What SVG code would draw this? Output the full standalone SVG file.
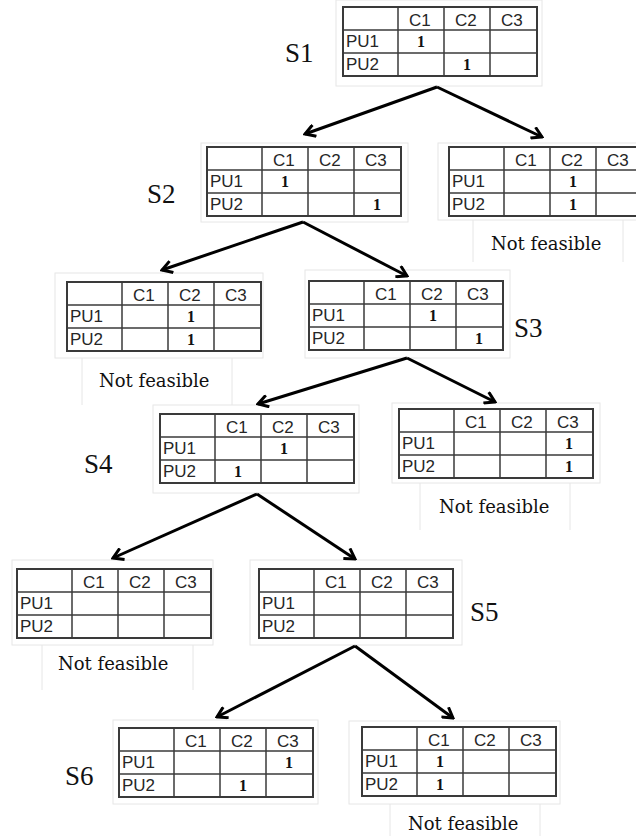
<svg xmlns="http://www.w3.org/2000/svg" xmlns:xlink="http://www.w3.org/1999/xlink" width="636" height="836" viewBox="0 0 636 836">
<style>
.fr{fill:none;stroke:#e6e6e6;stroke-width:1}
.tb{fill:#fff;stroke:#3a3a3a;stroke-width:2}
.ln{stroke:#3a3a3a;stroke-width:1.5}
.hd{font-family:"Liberation Sans",Arial,sans-serif;font-size:17px;fill:#262626}
.one{font-family:"Liberation Serif","Times New Roman",serif;font-size:16px;font-weight:bold;fill:#111;text-anchor:middle}
.lab{font-family:"Liberation Serif","Times New Roman",serif;font-size:27px;fill:#111}
.nf{font-family:"DejaVu Serif","Liberation Serif",serif;font-size:18px;fill:#111}
.ar{fill:none;stroke:#000;stroke-width:3;marker-end:url(#head)}
</style>
<defs>
<marker id="head" markerUnits="userSpaceOnUse" viewBox="0 0 14 14" refX="12" refY="7" markerWidth="14" markerHeight="14" orient="auto">
<path d="M2,1 L12,7 L2,13" fill="none" stroke="#000" stroke-width="3" stroke-linejoin="miter"/>
</marker>
<g id="grid">
<rect class="tb" x="0" y="0" width="194" height="69"/>
<line class="ln" x1="0" y1="23" x2="194" y2="23"/>
<line class="ln" x1="0" y1="46" x2="194" y2="46"/>
<line class="ln" x1="55" y1="0" x2="55" y2="69"/>
<line class="ln" x1="101" y1="0" x2="101" y2="69"/>
<line class="ln" x1="147" y1="0" x2="147" y2="69"/>
<text class="hd" x="66" y="19">C1</text>
<text class="hd" x="112" y="19">C2</text>
<text class="hd" x="158" y="19">C3</text>
<text class="hd" x="3" y="40">PU1</text>
<text class="hd" x="3" y="63">PU2</text>
</g>
</defs>
<rect width="636" height="836" fill="#fff"/>
<g id="frames">
<rect class="fr" x="336" y="0" width="206" height="86"/>
<rect class="fr" x="201" y="143" width="207" height="79"/>
<rect class="fr" x="438" y="143" width="210" height="77"/>
<path class="fr" d="M473,220 V262 M623,220 V262"/>
<rect class="fr" x="55" y="273" width="208" height="85"/>
<path class="fr" d="M82,358 V405 M232,358 V405"/>
<rect class="fr" x="305" y="270" width="205" height="88"/>
<rect class="fr" x="153" y="405" width="206" height="88"/>
<rect class="fr" x="392" y="403" width="208" height="80"/>
<path class="fr" d="M420,483 V530 M570,483 V530"/>
<rect class="fr" x="12" y="560" width="201" height="85"/>
<path class="fr" d="M42,645 V690 M193,645 V690"/>
<rect class="fr" x="250" y="560" width="212" height="85"/>
<rect class="fr" x="113" y="720" width="205" height="84"/>
<rect class="fr" x="349" y="721" width="211" height="83"/>
<path class="fr" d="M390,804 V836 M540,804 V836"/>
</g>
<g id="connectors">
<path class="ar" d="M437,87 L305,134"/>
<path class="ar" d="M437,87 L542,137"/>
<path class="ar" d="M303,222 L162,270"/>
<path class="ar" d="M303,222 L407,276"/>
<path class="ar" d="M407,358 L258,404"/>
<path class="ar" d="M407,358 L495,402"/>
<path class="ar" d="M257,494 L113,558"/>
<path class="ar" d="M257,494 L355,559"/>
<path class="ar" d="M355,646 L217,717"/>
<path class="ar" d="M355,646 L453,718"/>
</g>
<g id="S1">
<text class="lab" x="285" y="62">S1</text>
<use xlink:href="#grid" x="343" y="7"/>
<text class="one" x="421" y="47">1</text>
<text class="one" x="467" y="70">1</text>
</g>
<g id="S2">
<text class="lab" x="147" y="203">S2</text>
<use xlink:href="#grid" x="207" y="147"/>
<text class="one" x="285" y="187">1</text>
<text class="one" x="377" y="210">1</text>
</g>
<g id="N2">
<use xlink:href="#grid" x="449" y="147"/>
<text class="one" x="573" y="187">1</text>
<text class="one" x="573" y="210">1</text>
<text class="nf" x="491" y="250">Not feasible</text>
</g>
<g id="N3">
<use xlink:href="#grid" x="67" y="282"/>
<text class="one" x="191" y="322">1</text>
<text class="one" x="191" y="345">1</text>
<text class="nf" x="99" y="387">Not feasible</text>
</g>
<g id="S3">
<text class="lab" x="514" y="337">S3</text>
<use xlink:href="#grid" x="309" y="281"/>
<text class="one" x="433" y="321">1</text>
<text class="one" x="479" y="344">1</text>
</g>
<g id="S4">
<text class="lab" x="84" y="473">S4</text>
<use xlink:href="#grid" x="160" y="414"/>
<text class="one" x="284" y="454">1</text>
<text class="one" x="238" y="477">1</text>
</g>
<g id="N4">
<use xlink:href="#grid" x="399" y="409"/>
<text class="one" x="569" y="449">1</text>
<text class="one" x="569" y="472">1</text>
<text class="nf" x="439" y="513">Not feasible</text>
</g>
<g id="N5">
<use xlink:href="#grid" x="17" y="569"/>
<text class="nf" x="58" y="670">Not feasible</text>
</g>
<g id="S5">
<text class="lab" x="470" y="621">S5</text>
<use xlink:href="#grid" x="259" y="569"/>
</g>
<g id="S6">
<text class="lab" x="65" y="785">S6</text>
<use xlink:href="#grid" x="119" y="728"/>
<text class="one" x="289" y="768">1</text>
<text class="one" x="243" y="791">1</text>
</g>
<g id="N6">
<use xlink:href="#grid" x="362" y="727"/>
<text class="one" x="440" y="767">1</text>
<text class="one" x="440" y="790">1</text>
<text class="nf" x="408" y="830">Not feasible</text>
</g>
</svg>
